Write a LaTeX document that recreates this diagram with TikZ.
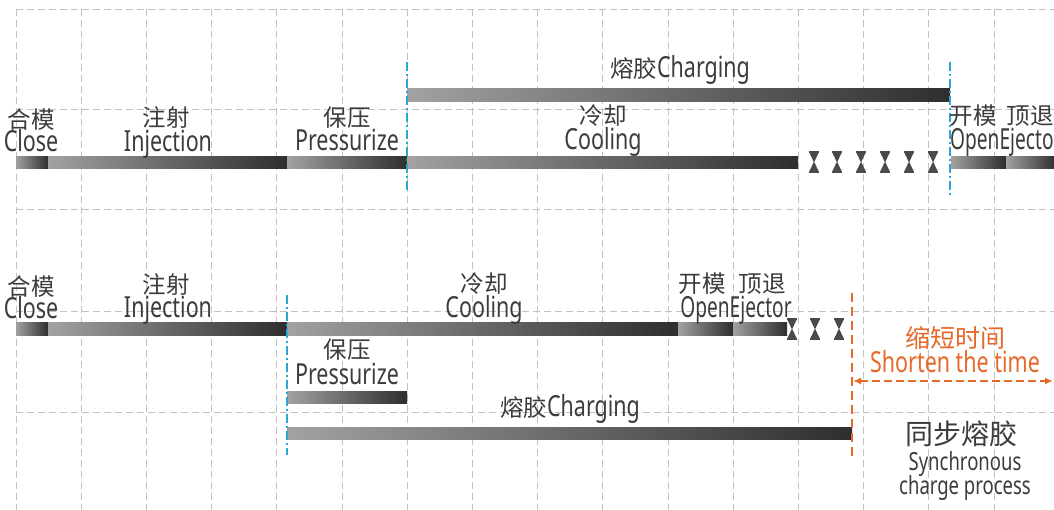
\documentclass[tikz,border=0pt]{standalone}
\usepackage{fontspec}
\setmainfont{Noto Sans CJK SC}
\newfontfamily\cjkf{Noto Sans CJK SC}
\newfontfamily\latf{Noto Sans}[FakeStretch=0.74]
\newfontfamily\latn{Noto Sans}[FakeStretch=0.66]
\usetikzlibrary{arrows.meta}
\definecolor{txt}{HTML}{3C3C3C}
\definecolor{gridc}{HTML}{C2C2C2}
\definecolor{cyanc}{HTML}{2AA7D6}
\definecolor{orangec}{HTML}{E8682A}
\definecolor{barL}{HTML}{A2A2A2}
\definecolor{barR}{HTML}{2E2E2E}
\definecolor{hgc}{HTML}{4A4A4A}
\newcommand\ZH[1]{{\cjkf\fontsize{23.5}{25}\selectfont #1}}
\newcommand\ZHo[1]{{\cjkf\fontsize{25}{27}\selectfont #1}}
\newcommand\EN[1]{{\latf\fontsize{29}{30}\selectfont #1}}
\newcommand\ENn[1]{{\latn\fontsize{29}{30}\selectfont #1}}
\newcommand\ZHb[1]{{\cjkf\fontsize{28}{30}\selectfont #1}}
\newcommand\ENs[1]{{\latf\fontsize{25}{26}\selectfont #1}}
\begin{document}
\begin{tikzpicture}[x=1pt,y=-1pt,
  lbl/.style={text=txt, inner sep=0pt, anchor=base},
  olbl/.style={text=orangec, inner sep=0pt, anchor=base},
  gridline/.style={gridc, line width=0.9pt, dash pattern=on 7pt off 4pt},
  bar/.style={left color=barL, right color=barR, draw=none, inner sep=0pt, outer sep=0pt, minimum height=12pt, anchor=west},
  cyanline/.style={cyanc, line width=1.3pt, dash pattern=on 9pt off 3pt on 2pt off 3pt},
  orangeline/.style={orangec, line width=1.6pt, dash pattern=on 9pt off 5pt},
  hg/.pic={
    \fill[hgc] (-5,-11) rectangle (5,-9);
    \fill[hgc] (-4.5,-9) -- (4.5,-9) -- (0,0.5) -- cycle;
    \fill[hgc] (-4.5,9) -- (4.5,9) -- (0,-0.5) -- cycle;
    \fill[hgc] (-5,11) rectangle (5,9);
  }]
\useasboundingbox (0,0) rectangle (1054,510);
\clip (0,0) rectangle (1054,510);
\fill[white] (0,0) rectangle (1054,510);
% grid
\foreach \k in {0,...,15} \draw[gridline] ({16+65.2*\k},9) -- ({16+65.2*\k},510);
\foreach \yy in {9,109,209,311,412} \draw[gridline] (16,\yy) -- (1054,\yy);

% ---- row 1 ----
\node[bar, minimum width=32pt] (close1) at (16,162.5) {};
\node[bar, minimum width=239pt] (inj1) at (48,162.5) {};
\node[bar, minimum width=120pt] (pres1) at (287,162.5) {};
\node[bar, minimum width=391pt] (cool1) at (407,162.5) {};
\node[bar, minimum width=55pt] (open1) at (951,162.5) {};
\node[bar, minimum width=50pt] (ejec1) at (1006,162.5) {};
\node[bar, minimum width=543pt, minimum height=13pt] (chg1) at (407,95) {};
\foreach \xx in {814,837,861,885,909,933} \pic at (\xx,162) {hg};

\coordinate (c1t) at (407,62); \coordinate (c1b) at (407,193);
\coordinate (c2t) at (950,62); \coordinate (c2b) at (950,195);
\draw[cyanline] (c1t) -- (c1b);
\draw[cyanline] (c2t) -- (c2b);

\node[lbl] (l1a) at (31,129) {\ZH{合模}};
\node[lbl] (l1b) at (31,152) {\EN{Close}};
\node[lbl] (l1c) at (166,127) {\ZH{注射}};
\node[lbl] (l1d) at (168,152) {\EN{Injection}};
\node[lbl] (l1e) at (347,127) {\ZH{保压}};
\node[lbl] (l1f) at (347,151) {\EN{Pressurize}};
\node[lbl] (l1g) at (603,125) {\ZH{冷却}};
\node[lbl] (l1h) at (603,150) {\EN{Cooling}};
\node[lbl] (l1i) at (973,125) {\ZH{开模}};
\node[lbl] (l1j) at (1030,125) {\ZH{顶退}};
\node[lbl, anchor=base west] (l1k) at (950,150) {\ENn{OpenEjecto}};
\node[lbl] (l1l) at (680,78) {\ZH{熔胶}\EN{Charging}};

% ---- row 2 ----
\node[bar, minimum width=32pt] (close2) at (16,329) {};
\node[bar, minimum width=239pt] (inj2) at (48,329) {};
\node[bar, minimum width=391pt] (cool2) at (287,329) {};
\node[bar, minimum width=55pt] (open2) at (678,329) {};
\node[bar, minimum width=54pt] (ejec2) at (733,329) {};
\node[bar, minimum width=120pt] (pres2) at (287,397) {};
\node[bar, minimum width=565pt] (chg2) at (287,433.5) {};
\foreach \xx in {792,815,839} \pic at (\xx,329) {hg};

\coordinate (c3t) at (287,295); \coordinate (c3b) at (287,455);
\draw[cyanline] (c3t) -- (c3b);
\coordinate (o1t) at (852,293); \coordinate (o1b) at (852,456);
\draw[orangeline] (o1t) -- (o1b);
\coordinate (a1) at (853,381); \coordinate (a2) at (1053,381);
\draw[orangec, line width=1.6pt, dash pattern=on 8pt off 4pt, {Latex[length=8pt,width=7pt]}-{Latex[length=8pt,width=7pt]}] (a1) -- (a2);

\node[lbl] (l2a) at (31,296) {\ZH{合模}};
\node[lbl] (l2b) at (31,319) {\EN{Close}};
\node[lbl] (l2c) at (166,294) {\ZH{注射}};
\node[lbl] (l2d) at (168,318) {\EN{Injection}};
\node[lbl] (l2e) at (484,293) {\ZH{冷却}};
\node[lbl] (l2f) at (484,318) {\EN{Cooling}};
\node[lbl] (l2g) at (702,293) {\ZH{开模}};
\node[lbl] (l2h) at (762,293) {\ZH{顶退}};
\node[lbl] (l2i) at (736,318) {\ENn{OpenEjector}};
\node[lbl] (l2j) at (347,359) {\ZH{保压}};
\node[lbl] (l2k) at (347,384) {\EN{Pressurize}};
\node[lbl] (l2l) at (570,416) {\ZH{熔胶}\EN{Charging}};

\node[olbl] (o2a) at (955,347) {\ZHo{缩短时间}};
\node[olbl] (o2b) at (955,372) {\EN{Shorten the time}};
\node[lbl] (s1) at (961,444) {\ZHb{同步熔胶}};
\node[lbl] (s2) at (965,470) {\ENs{Synchronous}};
\node[lbl] (s3) at (965,494) {\ENs{charge process}};
\end{tikzpicture}
\end{document}
